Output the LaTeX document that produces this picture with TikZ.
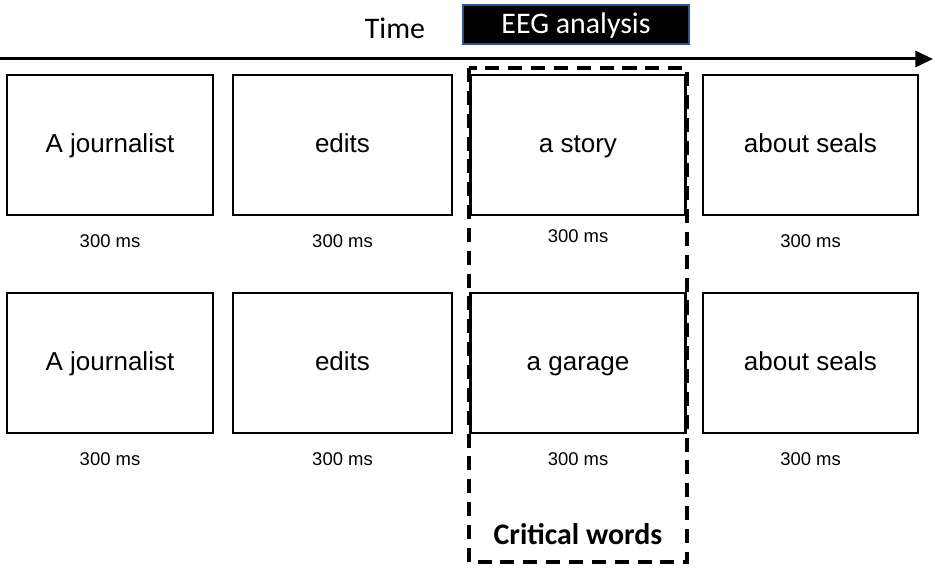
\documentclass[tikz,border=0pt]{standalone}
\usepackage{fontspec}
\setmainfont{Liberation Sans}
\newfontfamily\calibri{Carlito}
\usetikzlibrary{positioning, arrows.meta}

\tikzset{
	word/.style={draw, line width=1.2pt, minimum width=4.3cm, minimum height=2.8cm, text height=1.65ex, text depth=0pt, font=\fontsize{14.8}{16}\selectfont},
	dur/.style={font=\fontsize{10.5}{12}\selectfont, text height=1.6ex, text depth=0.4ex},
}

\begin{document}
\begin{tikzpicture}
	\useasboundingbox (0,0) rectangle (18.7,11.38);

	\draw [line width=1.7pt, -{Triangle[length=10pt,width=9pt]}] (0,10.2) coordinate (t0) -- (18.66,10.2) coordinate (t1);
	\node (time) at (7.9,10.82) {\calibri\fontsize{17}{20}\selectfont Time};
	\node (eeg) [fill=black, draw={rgb,255:red,47;green,82;blue,143}, line width=0.6pt, text=white, text height=1.9ex, text depth=0pt, minimum width=4.52cm, minimum height=0.78cm, font=\calibri\fontsize{17}{20}\selectfont] at (11.52,10.89) {EEG analysis};

	% first sentence
	\node (a1) [word, minimum width=4.12cm] at (2.2,8.48) {A journalist};
	\node (b1) [word, minimum width=4.38cm] at (6.85,8.48) {edits};
	\node (c1) [word] at (11.56,8.48) {a story};
	\node (d1) [word] at (16.21,8.48) {about seals};
	\node (a1t) [dur, below=0.2cm of a1] {300 ms};
	\node (b1t) [dur, below=0.2cm of b1] {300 ms};
	\node (c1t) [dur, below=0.1cm of c1] {300 ms};
	\node (d1t) [dur, below=0.2cm of d1] {300 ms};

	% second sentence
	\node (a2) [word, minimum width=4.12cm] at (2.2,4.12) {A journalist};
	\node (b2) [word, minimum width=4.38cm] at (6.85,4.12) {edits};
	\node (c2) [word] at (11.56,4.12) {a garage};
	\node (d2) [word] at (16.21,4.12) {about seals};
	\node (a2t) [dur, below=0.2cm of a2] {300 ms};
	\node (b2t) [dur, below=0.2cm of b2] {300 ms};
	\node (c2t) [dur, below=0.2cm of c2] {300 ms};
	\node (d2t) [dur, below=0.2cm of d2] {300 ms};

	% critical region
	\draw [line width=1.9pt, dash pattern=on 8pt off 5pt] (9.38,10.02) rectangle (13.74,0.14);
	\node (crit) at (11.56,0.70) {\calibri\bfseries\fontsize{17}{20}\selectfont Critical words};
\end{tikzpicture}
\end{document}
